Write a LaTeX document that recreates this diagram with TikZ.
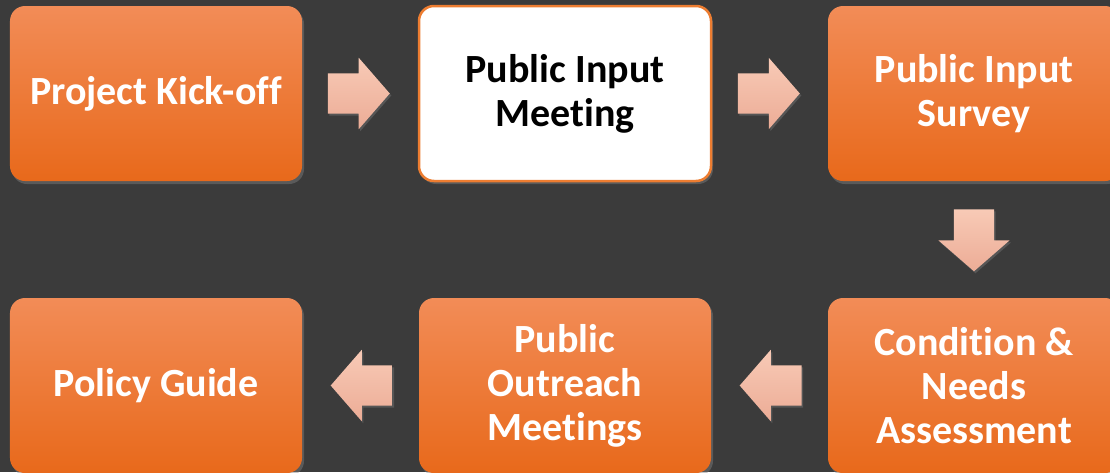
\documentclass[tikz,border=0pt]{standalone}
\usepackage{fontspec}
\setmainfont{Carlito}[Ligatures=NoCommon]
\usetikzlibrary{positioning, shapes.arrows, shadows}

\definecolor{bgdark}{HTML}{3B3B3B}
\definecolor{orangetop}{HTML}{F28C57}
\definecolor{orangebot}{HTML}{E8691B}
\definecolor{orangeline}{HTML}{ED7D31}
\definecolor{peachtop}{HTML}{F8CAB6}
\definecolor{peachbot}{HTML}{ECAC96}

\begin{document}
\begin{tikzpicture}[node distance=292pt and 409pt, on grid,
    box/.style={rectangle, rounded corners=15pt, minimum width=292pt,
      minimum height=175pt, inner sep=0pt, align=center,
      font=\fontsize{40}{44}\selectfont\bfseries,
      drop shadow={shadow xshift=2pt, shadow yshift=-3pt, opacity=0.45}},
    stage/.style={box, text=white, top color=orangetop, bottom color=orangebot},
    current/.style={box, text=black, fill=white, draw=orangeline, line width=2.5pt},
    blockarrow/.style={single arrow, inner xsep=0pt, inner ysep=20pt,
      minimum height=62pt, single arrow head extend=15.5pt,
      single arrow tip angle=98, top color=peachtop, bottom color=peachbot,
      drop shadow={shadow xshift=1.5pt, shadow yshift=-2pt, opacity=0.4}},
    rightarrow/.style={blockarrow, xshift=-10pt},
    leftarrow/.style={blockarrow, shape border rotate=180, xshift=10pt},
    downarrow/.style={blockarrow, shape border rotate=270,
      inner xsep=20pt, inner ysep=0pt, yshift=8pt}]
  % background and frame
  \fill[bgdark] (-156pt,93.5pt) rectangle (954pt,-378.5pt);
  \useasboundingbox (-156pt,93.5pt) rectangle (954pt,-378.5pt);

  % top row
  \node[stage] (kick) {Project Kick-off};
  \node[current] (meet) [right=of kick] {Public Input\\Meeting};
  \node[stage] (survey) [right=of meet] {Public Input\\Survey};
  % bottom row
  \node[stage] (assess) [below=of survey] {Condition \&\\Needs\\Assessment};
  \node[stage] (outreach) [left=of assess] {Public\\Outreach\\Meetings};
  \node[stage] (policy) [left=of outreach] {Policy Guide};

  % block arrows between stages
  \path (kick) -- node[rightarrow] (a_1) {} (meet);
  \path (meet) -- node[rightarrow] (a_2) {} (survey);
  \path (survey) -- node[downarrow] (a_3) {} (assess);
  \path (assess) -- node[leftarrow] (a_4) {} (outreach);
  \path (outreach) -- node[leftarrow] (a_5) {} (policy);
\end{tikzpicture}
\end{document}
